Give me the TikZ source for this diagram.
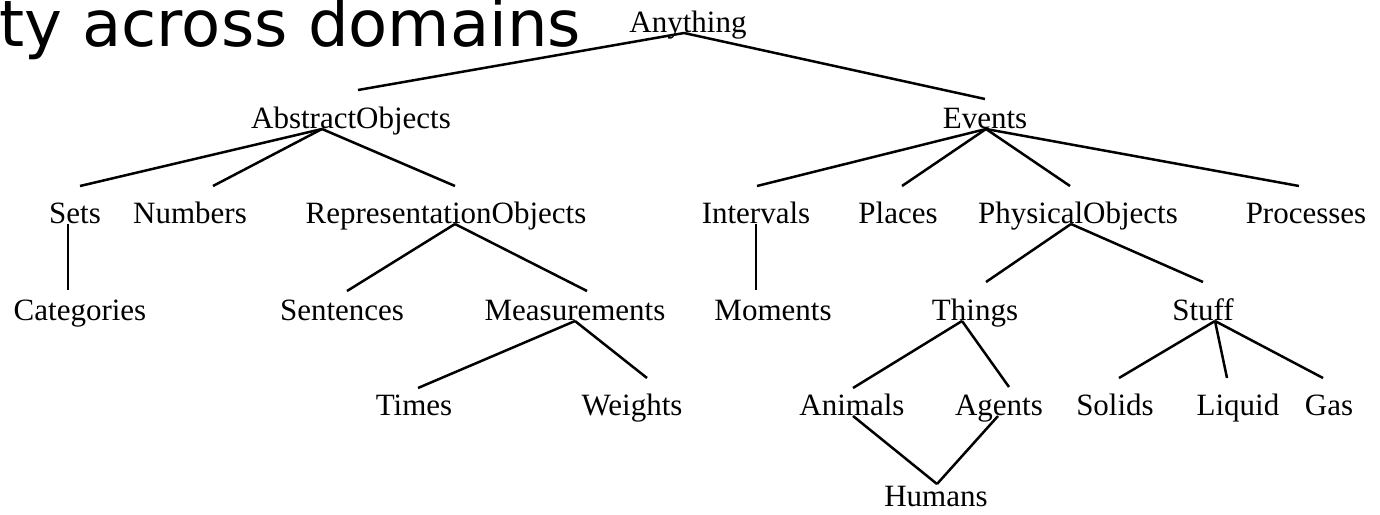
\documentclass[tikz,border=0pt]{standalone}
\usepackage{fontspec}
\setmainfont{Liberation Serif}
\newfontfamily\titlefont{DejaVu Sans}
\tikzset{%
  every concept/.style={
    anchor=base,
    inner sep=0pt,
    font=\fontsize{31}{31}\selectfont
  },
  slide title/.style={
    anchor=base west,
    inner sep=0pt,
    font=\titlefont\fontsize{64}{64}\selectfont
  },
  isa/.style={line width=2.5pt}
}

\begin{document}
\begin{tikzpicture}[x=1pt, y=-1pt]
            \useasboundingbox (0,0) rectangle (1380,514);
            \node [slide title] (title) at (-1,46) {ty across domains};

            \node [every concept] (Anything) at (688,32) {Anything};
            \foreach \l/\x in {AbstractObjects/351, Events/985}
              \node [every concept] (\l) at (\x,128) {\l};
            \foreach \l/\x in {Sets/75, Numbers/190, RepresentationObjects/446, Intervals/756, Places/898, PhysicalObjects/1078, Processes/1306}
              \node [every concept] (\l) at (\x,223) {\l};
            \foreach \l/\x in {Categories/80, Sentences/342, Measurements/575, Moments/773, Things/975, Stuff/1203}
              \node [every concept] (\l) at (\x,320) {\l};
            \foreach \l/\x in {Times/414, Weights/632, Animals/852, Agents/999, Solids/1115, Liquid/1238, Gas/1329}
              \node [every concept] (\l) at (\x,415) {\l};
            \node [every concept] (Humans) at (936,506) {Humans};

            \foreach \p/\a/\c/\bx/\by in {
                Anything/-4/AbstractObjects/7/38, Anything/-4/Events/0/29,
                AbstractObjects/-29/Sets/5/37, AbstractObjects/-29/Numbers/23/37,
                AbstractObjects/-29/RepresentationObjects/9/37,
                Events/1/Intervals/1/37, Events/1/Places/4/37,
                Events/1/PhysicalObjects/-8/37, Events/1/Processes/-7/37,
                Sets/-7/Categories/-12/30,
                RepresentationObjects/9/Sentences/5/29, RepresentationObjects/9/Measurements/12/29,
                Intervals/0/Moments/-17/30,
                PhysicalObjects/-7/Things/11/38, PhysicalObjects/-7/Stuff/0/38,
                Measurements/0/Times/4/27, Measurements/0/Weights/15/37,
                Things/-13/Animals/1/27, Things/-13/Agents/10/28,
                Stuff/12/Solids/4/37, Stuff/12/Liquid/-11/37, Stuff/12/Gas/-6/37,
                Animals/1/Humans/1/22, Agents/-1/Humans/1/22}
              \draw [isa] ([xshift=\a, yshift=-1]\p.base) -- ([xshift=\bx, yshift=\by]\c.base);
\end{tikzpicture}
\end{document}
